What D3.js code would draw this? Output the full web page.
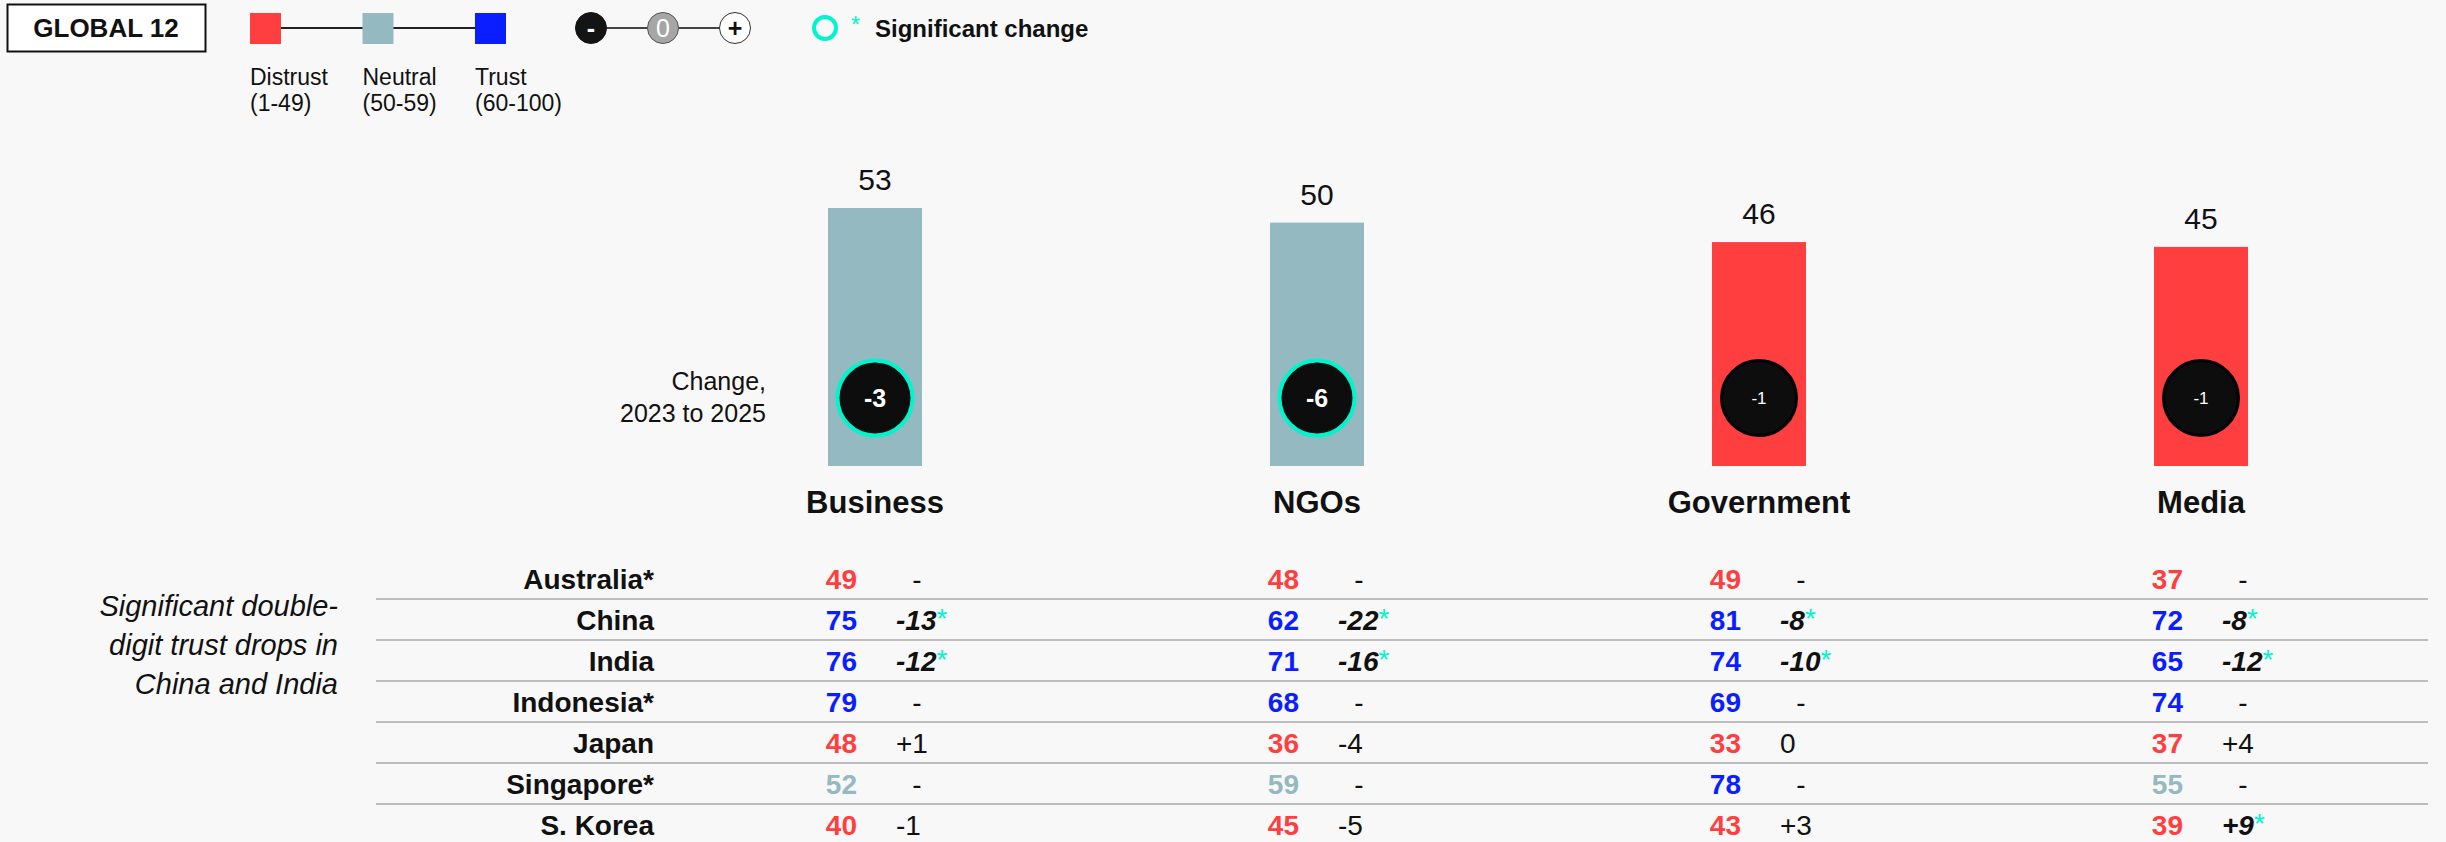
<!DOCTYPE html>
<html>
<head>
<meta charset="utf-8">
<script src="https://cdn.jsdelivr.net/npm/d3@7"></script>
<style>
  body { margin: 0; background: #f8f8f8; }
  svg { display: block; font-family: "Liberation Sans", Arial, sans-serif; }
</style>
</head>
<body>
<div id="chart"></div>
<script>
// data
const SECTORS = ["Business", "NGOs", "Government", "Media"];
const GLOBAL_TRUST = [53, 50, 46, 45];
const GLOBAL_CHANGE = [-3, -6, -1, -1];
const GLOBAL_SIG = [true, true, false, false];

const COUNTRIES = ["Australia*", "China", "India", "Indonesia*", "Japan", "Singapore*", "S. Korea"];
const TRUST_BUSINESS = [49, 75, 76, 79, 48, 52, 40];
const TRUST_NGOS = [48, 62, 71, 68, 36, 59, 45];
const TRUST_GOVERNMENT = [49, 81, 74, 69, 33, 78, 43];
const TRUST_MEDIA = [37, 72, 65, 74, 37, 55, 39];
const CHANGE_BUSINESS = [null, -13, -12, null, 1, null, -1];
const CHANGE_NGOS = [null, -22, -16, null, -4, null, -5];
const CHANGE_GOVERNMENT = [null, -8, -10, null, 0, null, 3];
const CHANGE_MEDIA = [null, -8, -12, null, 4, null, 9];
const SIG_BUSINESS = [0, 1, 1, 0, 0, 0, 0];
const SIG_NGOS = [0, 1, 1, 0, 0, 0, 0];
const SIG_GOVERNMENT = [0, 1, 1, 0, 0, 0, 0];
const SIG_MEDIA = [0, 1, 1, 0, 0, 0, 1];

const LEGEND_LEVELS = [
    {name: "Distrust", range: "(1-49)", value: 25},
    {name: "Neutral", range: "(50-59)", value: 55},
    {name: "Trust", range: "(60-100)", value: 80}
];

const C = {
    W: 2446, H: 842,
    RED: "#ff3f3f", GREY: "#94b9c0", BLUE: "#0a1eff", TEAL: "#00f5cc",
    BAR_W: 94, BAR_BASE: 466,
    BUBBLE_Y: 398, BUBBLE_R: 37.5
};

const trustColor = (v) => v < 50 ? C.RED : (v < 60 ? C.GREY : C.BLUE);
const fmtChange = (v) => v > 0 ? "+" + v : String(v);

const tableTrust = [TRUST_BUSINESS, TRUST_NGOS, TRUST_GOVERNMENT, TRUST_MEDIA];
const tableChange = [CHANGE_BUSINESS, CHANGE_NGOS, CHANGE_GOVERNMENT, CHANGE_MEDIA];
const tableSig = [SIG_BUSINESS, SIG_NGOS, SIG_GOVERNMENT, SIG_MEDIA];

const svg = d3.select("#chart").append("svg")
    .attr("width", C.W).attr("height", C.H);
svg.append("rect").attr("width", C.W).attr("height", C.H).attr("fill", "#f8f8f8");

/* ---------------- header ---------------- */
svg.append("rect")
   .attr("x", 7.5).attr("y", 4.5).attr("width", 198).attr("height", 47)
   .attr("fill", "#fff").attr("stroke", "#111").attr("stroke-width", 2);
svg.append("text")
   .attr("x", 106).attr("y", 37).attr("text-anchor", "middle")
   .attr("font-size", 26).attr("font-weight", "bold").attr("fill", "#111")
   .text("GLOBAL 12");

const legX = d3.scalePoint().domain(LEGEND_LEVELS.map(d => d.name)).range([250, 475]);
svg.append("line")
   .attr("x1", legX("Distrust") + 15).attr("x2", legX("Trust") + 15)
   .attr("y1", 28).attr("y2", 28).attr("stroke", "#222").attr("stroke-width", 2);
const legG = svg.selectAll("g.lev").data(LEGEND_LEVELS).enter().append("g")
   .attr("transform", d => "translate(" + legX(d.name) + ",0)");
legG.append("rect")
   .attr("x", 0).attr("y", 13).attr("width", 31).attr("height", 31)
   .attr("fill", d => trustColor(d.value));
legG.append("text").attr("y", 85).attr("font-size", 23).attr("fill", "#111").text(d => d.name);
legG.append("text").attr("y", 111).attr("font-size", 23).attr("fill", "#111").text(d => d.range);

// change legend
const CHANGE_KEYS = [
    {label: "-", fill: "#141414", stroke: "#141414", color: "#fff", weight: "bold"},
    {label: "0", fill: "#a6a6a6", stroke: "#555", color: "#fff", weight: "normal"},
    {label: "+", fill: "#fff", stroke: "#333", color: "#111", weight: "bold"}
];
const keyX = d3.scalePoint().domain(CHANGE_KEYS.map(d => d.label)).range([591, 735]);
svg.append("line")
   .attr("x1", 591).attr("x2", 735).attr("y1", 28).attr("y2", 28)
   .attr("stroke", "#444").attr("stroke-width", 2);
const keyG = svg.selectAll("g.key").data(CHANGE_KEYS).enter().append("g")
   .attr("transform", d => "translate(" + keyX(d.label) + ",28)");
keyG.append("circle").attr("r", 15.5)
   .attr("fill", d => d.fill).attr("stroke", d => d.stroke).attr("stroke-width", 1);
keyG.append("text")
   .attr("y", 9).attr("text-anchor", "middle").attr("font-size", 25)
   .attr("font-weight", d => d.weight).attr("fill", d => d.color)
   .text(d => d.label);

svg.append("circle").attr("cx", 825).attr("cy", 28).attr("r", 11)
   .attr("fill", "none").attr("stroke", C.TEAL).attr("stroke-width", 4);
svg.append("text").attr("x", 851).attr("y", 33).attr("font-size", 23)
   .attr("fill", C.TEAL).text("*");
svg.append("text").attr("x", 875).attr("y", 37).attr("font-size", 24)
   .attr("font-weight", "bold").attr("fill", "#111").text("Significant change");

/* ---------------- bars ---------------- */
const x = d3.scaleBand().domain(SECTORS).range([654, 2422]);
const xc = (s) => x(s) + x.bandwidth() / 2;
const y = d3.scaleLinear().domain([0, 100]).range([C.BAR_BASE, C.BAR_BASE - 486.8]);

const barData = SECTORS.map((s, i) => ({sector: s, value: GLOBAL_TRUST[i], change: GLOBAL_CHANGE[i], sig: GLOBAL_SIG[i]}));
const barG = svg.selectAll("g.bar").data(barData).enter().append("g")
   .attr("transform", d => "translate(" + xc(d.sector) + ",0)");
barG.append("rect")
   .attr("x", -C.BAR_W / 2).attr("width", C.BAR_W)
   .attr("y", d => y(d.value)).attr("height", d => y(0) - y(d.value))
   .attr("fill", d => trustColor(d.value));
barG.append("text")
   .attr("y", d => y(d.value) - 18).attr("text-anchor", "middle")
   .attr("font-size", 30).attr("fill", "#111").text(d => d.value);
barG.append("circle")
   .attr("cy", C.BUBBLE_Y).attr("r", C.BUBBLE_R)
   .attr("fill", "#0d0d0d")
   .attr("stroke", d => d.sig ? C.TEAL : "#000")
   .attr("stroke-width", d => d.sig ? 4 : 3);
barG.append("text")
   .attr("y", d => C.BUBBLE_Y + (d.sig ? 9 : 6)).attr("text-anchor", "middle")
   .attr("font-size", d => d.sig ? 25 : 17)
   .attr("font-weight", d => d.sig ? "bold" : "normal")
   .attr("fill", "#fff").text(d => fmtChange(d.change));
barG.append("text")
   .attr("y", 513).attr("text-anchor", "middle")
   .attr("font-size", 31).attr("font-weight", "bold").attr("fill", "#111")
   .text(d => d.sector);

svg.append("text").attr("x", 766).attr("y", 390).attr("text-anchor", "end")
   .attr("font-size", 25).attr("fill", "#111").text("Change,");
svg.append("text").attr("x", 766).attr("y", 422).attr("text-anchor", "end")
   .attr("font-size", 25).attr("fill", "#111").text("2023 to 2025");

/* ---------------- table ---------------- */
const row = d3.scaleBand().domain(COUNTRIES).range([558, 845]);

svg.selectAll("line.sep").data(COUNTRIES.slice(0, -1)).enter().append("line")
   .attr("x1", 376).attr("x2", 2428)
   .attr("y1", d => row(d) + row.bandwidth()).attr("y2", d => row(d) + row.bandwidth())
   .attr("stroke", "#bdbdbd").attr("stroke-width", 2);

svg.selectAll("text.country").data(COUNTRIES).enter().append("text")
   .attr("x", 654).attr("y", d => row(d) + 31).attr("text-anchor", "end")
   .attr("font-size", 28).attr("font-weight", "bold").attr("fill", "#111")
   .text(d => d);

const cells = [];
SECTORS.forEach((s, j) => COUNTRIES.forEach((c, i) => cells.push({
    sector: s, country: c,
    value: tableTrust[j][i], change: tableChange[j][i], sig: tableSig[j][i] === 1
})));

const cellG = svg.selectAll("g.cell").data(cells).enter().append("g")
   .attr("transform", d => "translate(" + xc(d.sector) + "," + (row(d.country) + 31) + ")");
cellG.append("text")
   .attr("x", -18).attr("text-anchor", "end")
   .attr("font-size", 28).attr("font-weight", "bold")
   .attr("fill", d => trustColor(d.value)).text(d => d.value);
const chg = cellG.append("text")
   .attr("x", d => d.change === null ? 42 : 21)
   .attr("text-anchor", d => d.change === null ? "middle" : "start")
   .attr("font-size", 28).attr("fill", "#111")
   .attr("font-weight", d => d.sig ? "bold" : "normal")
   .attr("font-style", d => d.sig ? "italic" : "normal");
chg.append("tspan").text(d => d.change === null ? "-" : fmtChange(d.change));
chg.filter(d => d.sig).append("tspan")
   .attr("fill", C.TEAL).attr("font-style", "normal").attr("font-weight", "normal")
   .attr("dy", -2).text("*");

const note = ["Significant double-", "digit trust drops in", "China and India"];
svg.selectAll("text.note").data(note).enter().append("text")
   .attr("x", 338).attr("y", (d, i) => 616 + i * 39).attr("text-anchor", "end")
   .attr("font-size", 29).attr("font-style", "italic").attr("fill", "#111")
   .text(d => d);
</script>
</body>
</html>
